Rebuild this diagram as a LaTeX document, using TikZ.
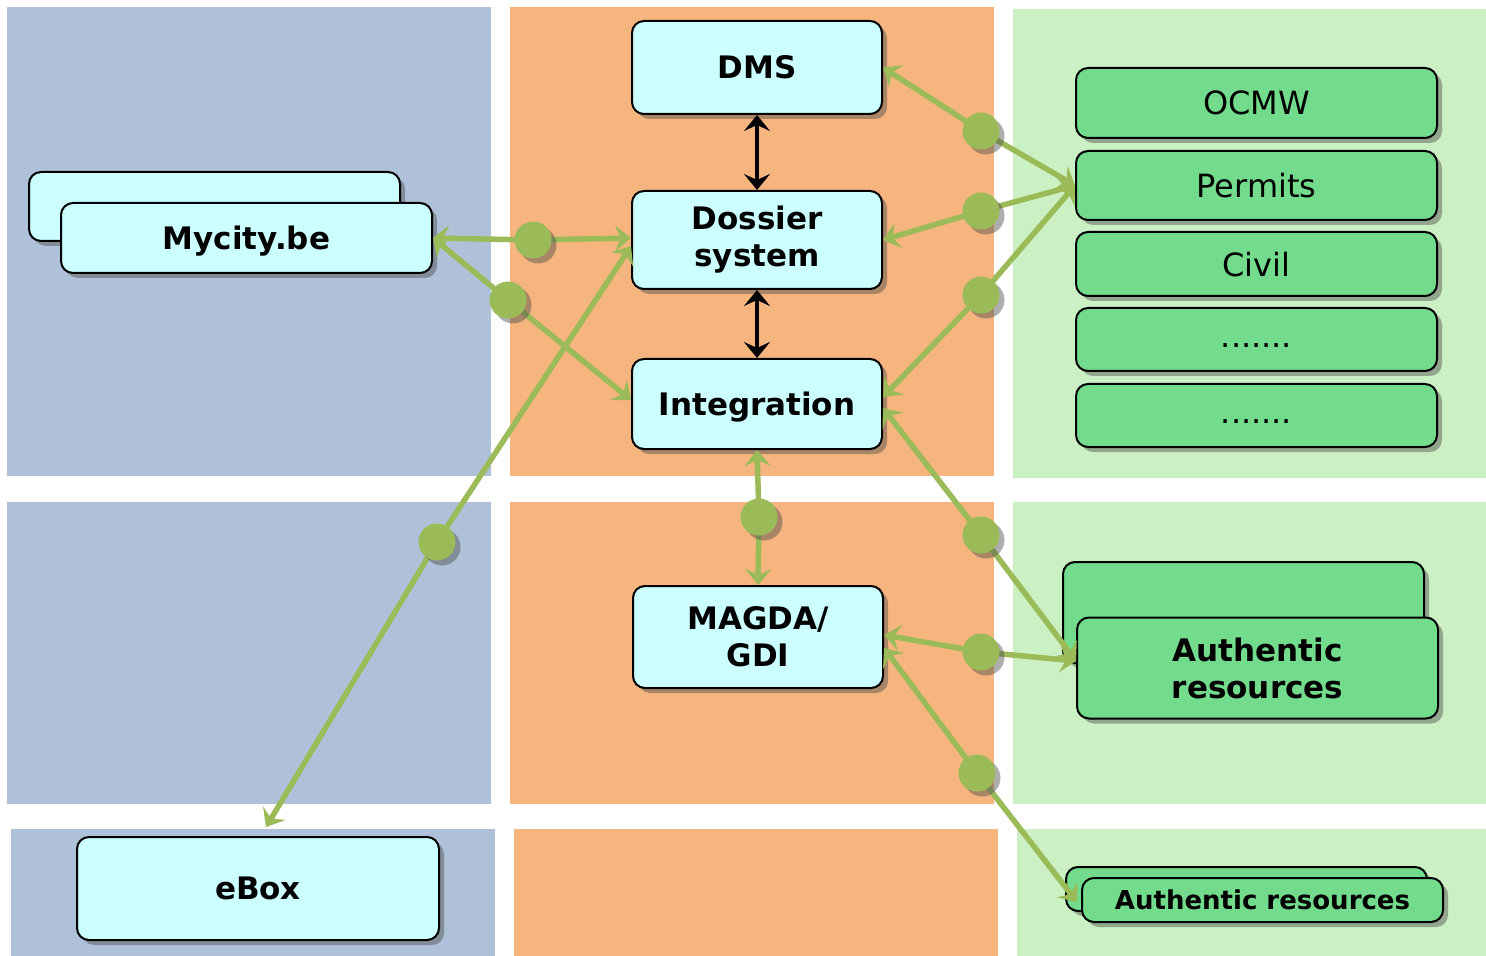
\documentclass[tikz,border=0pt]{standalone}
\usepackage{fontspec}
\setmainfont{DejaVu Sans}
\usetikzlibrary{arrows.meta,shadows}
\definecolor{bgblue}{HTML}{AFC1D9}
\definecolor{bgorange}{HTML}{F6B47E}
\definecolor{bggreen}{HTML}{CBF0C3}
\definecolor{cyanfill}{HTML}{CCFFFF}
\definecolor{boxgreen}{HTML}{72DC8C}
\definecolor{linegreen}{HTML}{9BBB59}
\pgfdeclarelayer{panels}
\pgfdeclarelayer{boxes}
\pgfdeclarelayer{lines}
\pgfsetlayers{panels,boxes,lines,main}
\begin{document}
\begin{tikzpicture}[x=0.5pt,y=-0.5pt,
  panel/.style={fill=#1, draw=none},
  shad/.style={drop shadow={shadow xshift=2.5pt, shadow yshift=-2.5pt, opacity=0.45, fill=black!70}},
  box/.style={draw=black, line width=1pt, rounded corners=6pt, align=center, inner sep=0pt, shad},
  cbox/.style={box, fill=cyanfill, font=\fontsize{15.5}{18.5}\selectfont\bfseries},
  gbox/.style={box, fill=boxgreen, minimum width=180.5pt, font=\fontsize{16}{19}\selectfont},
  one/.style={text depth=0pt},
  gdot/.style={circle, fill=linegreen, minimum size=18.5pt, inner sep=0pt, shad},
  gtip/.tip={Stealth[length=8pt,width=13pt,inset=3pt]},
  gline/.style={draw=linegreen, line width=2.75pt, -gtip},
  bline/.style={draw=black, line width=2pt, gtip-gtip}]
\useasboundingbox (0,0) rectangle (1486,956);
\begin{pgfonlayer}{panels}
  \fill[bgblue]   (7,7) rectangle (491,476);
  \fill[bgorange] (510,7) rectangle (994,476);
  \fill[bggreen]  (1013,9) rectangle (1486,478);
  \fill[bgblue]   (7,502) rectangle (491,804);
  \fill[bgorange] (510,502) rectangle (994,804);
  \fill[bggreen]  (1013,502) rectangle (1486,804);
  \fill[bgblue]   (11,829) rectangle (495,956);
  \fill[bgorange] (514,829) rectangle (998,956);
  \fill[bggreen]  (1017,829) rectangle (1486,956);
\end{pgfonlayer}
\begin{pgfonlayer}{boxes}
  \node[cbox, one, minimum width=125pt, minimum height=46.5pt] (dms) at (757,67.5) {DMS};
  \node[cbox, minimum width=125pt, minimum height=49pt] (dossier) at (757,240) {Dossier\\system};
  \node[cbox, one, minimum width=125pt, minimum height=45pt] (integ) at (757,404) {Integration};
  \node[cbox, minimum width=125pt, minimum height=51pt] (magda) at (758,637) {MAGDA/\\GDI};
  \node[cbox, minimum width=185.5pt, minimum height=34.5pt] (mycback) at (214.5,206.5) {};
  \node[cbox, one, minimum width=185.5pt, minimum height=35pt] (myc) at (246.5,238) {Mycity.be};
  \node[cbox, one, minimum width=181pt, minimum height=51.5pt] (ebox) at (258,888.5) {eBox};
  \node[gbox, one, minimum height=35pt] (ocmw) at (1256.5,103) {OCMW};
  \node[gbox, one, minimum height=34.5pt] (permits) at (1256.5,185.5) {Permits};
  \node[gbox, one, minimum height=32pt] (civil) at (1256.5,264) {Civil};
  \node[gbox, minimum height=31.5pt] (dotsa) at (1256.5,339.5) {\strut.......};
  \node[gbox, minimum height=31.5pt] (dotsb) at (1256.5,415.5) {\strut.......};
  \node[gbox, minimum height=50.5pt] (arbback) at (1243.5,612.5) {};
  \node[gbox, font=\fontsize{15.5}{18.5}\selectfont\bfseries, minimum height=50.5pt] (arb) at (1257.5,668) {Authentic\\resources};
  \node[gbox, minimum height=22pt] (arsback) at (1246.5,889) {};
  \node[gbox, one, font=\fontsize{13}{15}\selectfont\bfseries, minimum height=22pt] (ars) at (1262.5,900) {Authentic resources};
\end{pgfonlayer}
% connector dots
\node[gdot] (d1) at (981,131) {};
\node[gdot] (d2) at (981,211) {};
\node[gdot] (d3) at (981,295) {};
\node[gdot] (d4) at (533,240) {};
\node[gdot] (d5) at (508,300) {};
\node[gdot] (d6) at (437,542) {};
\node[gdot] (d7) at (759,517) {};
\node[gdot] (d8) at (981,535) {};
\node[gdot] (d9) at (981,652) {};
\node[gdot] (d10) at (977,773) {};
\coordinate (eboxin) at ([xshift=4pt,yshift=4.5pt]ebox.north);
\begin{pgfonlayer}{lines}
  \draw[bline] (dms.south) -- (dossier.north);
  \draw[bline] (dossier.south) -- (integ.north);
  \draw[gline] (d1.center) -- (dms.east);
  \draw[gline] (d1.center) -- (permits.west);
  \draw[gline] (d2.center) -- (dossier.east);
  \draw[gline] (d2.center) -- (permits.west);
  \draw[gline] (d3.center) -- ([yshift=3.5pt]integ.east);
  \draw[gline] (d3.center) -- (permits.west);
  \draw[gline] (d4.center) -- (myc.east);
  \draw[gline] (d4.center) -- ([yshift=1pt]dossier.west);
  \draw[gline] (d5.center) -- (myc.east);
  \draw[gline] (d5.center) -- ([yshift=2pt]integ.west);
  \draw[gline] (d6.center) -- ([yshift=-3pt]dossier.west);
  \draw[gline] (d6.center) -- (eboxin);
  \draw[gline] (d7.center) -- (integ.south);
  \draw[gline] (d7.center) -- (magda.north);
  \draw[gline] (d8.center) -- ([yshift=-2pt]integ.east);
  \draw[gline] (d8.center) -- ([yshift=3.5pt]arb.west);
  \draw[gline] (d9.center) -- ([yshift=1pt]magda.east);
  \draw[gline] (d9.center) -- ([yshift=3.5pt]arb.west);
  \draw[gline] (d10.center) -- ([yshift=-5.5pt]magda.east);
  \draw[gline] (d10.center) -- ([xshift=-2pt,yshift=-1pt]ars.west);
\end{pgfonlayer}
\end{tikzpicture}
\end{document}
